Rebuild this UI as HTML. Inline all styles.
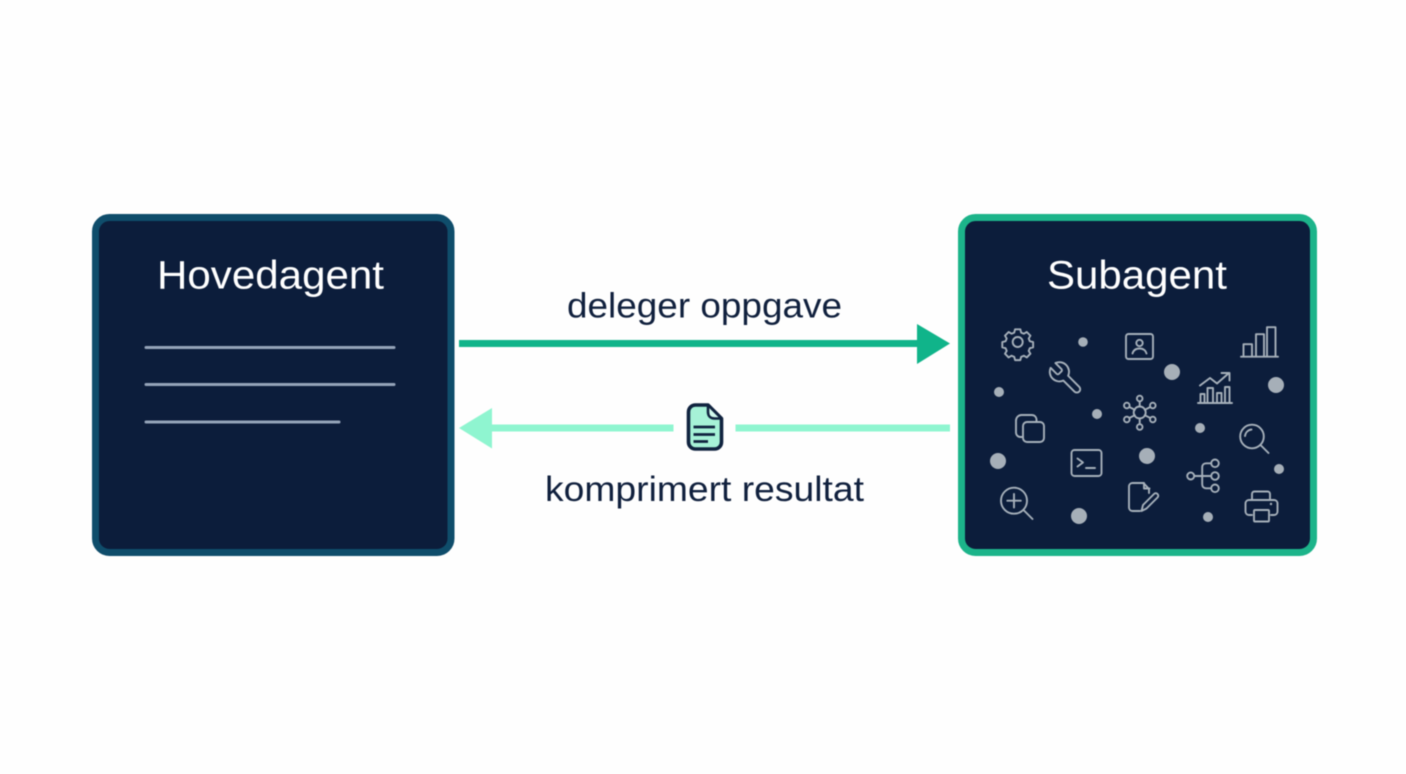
<!DOCTYPE html>
<html lang="no">
<head>
<meta charset="utf-8">
<title>Hovedagent og Subagent</title>
<style>
html,body{margin:0;padding:0;width:1406px;height:774px;background:#fefefe;overflow:hidden}
svg{display:block;filter:blur(0.4px)}
text{font-family:"Liberation Sans",sans-serif}
.i{fill:none;stroke:#a6b0ba;stroke-width:1.9;stroke-linecap:round;stroke-linejoin:round}
.i *{vector-effect:non-scaling-stroke}
.d{fill:#a6afb8}
</style>
</head>
<body>
<svg width="1406" height="774" viewBox="0 0 1406 774" xmlns="http://www.w3.org/2000/svg">
<rect width="1406" height="774" fill="#fefefe"/>

<!-- Left box -->
<rect x="95.500" y="217.500" width="355.500" height="335" rx="14" fill="#0c1d3b" stroke="#0f4d6b" stroke-width="7"/>
<text x="270.500" y="288.500" font-size="39.500" fill="#fff" text-anchor="middle" textLength="227" lengthAdjust="spacingAndGlyphs">Hovedagent</text>
<g stroke="#94a3b8" stroke-width="3" stroke-linecap="round">
<line x1="146" y1="347.500" x2="394" y2="347.500"/>
<line x1="146" y1="384.500" x2="394" y2="384.500"/>
<line x1="146" y1="422" x2="339" y2="422"/>
</g>

<!-- Right box -->
<rect x="961.500" y="217.500" width="352" height="335" rx="14" fill="#0c1d3b" stroke="#1cb48a" stroke-width="7"/>
<text x="1137" y="288.500" font-size="39.500" fill="#fff" text-anchor="middle" textLength="180" lengthAdjust="spacingAndGlyphs">Subagent</text>

<!-- Dots -->
<g class="d">
<circle cx="1083" cy="342" r="4.800"/>
<circle cx="1172" cy="372" r="8"/>
<circle cx="1276" cy="385" r="8"/>
<circle cx="999" cy="392" r="5"/>
<circle cx="1097" cy="414" r="5"/>
<circle cx="1200" cy="428" r="5"/>
<circle cx="998" cy="461" r="8"/>
<circle cx="1147" cy="456" r="8"/>
<circle cx="1279" cy="469" r="5"/>
<circle cx="1079" cy="516" r="8"/>
<circle cx="1208" cy="517" r="5"/>
</g>

<g class="i">
<!-- Gear -->
<circle cx="1017.700" cy="342" r="5"/>
<path transform="translate(1017.700,342) scale(.82) translate(-1017.700,-342)" d="M1014.500 326.500h6.400l1 4 3.300 1.400 3.600-2.100 4.400 4.500-2.100 3.500 1.400 3.300 4 1v6.400l-4 1-1.400 3.300 2.100 3.500-4.400 4.500-3.600-2.100-3.300 1.400-1 4h-6.400l-1-4-3.300-1.400-3.600 2.100-4.400-4.500 2.100-3.500-1.400-3.300-4-1v-6.400l4-1 1.400-3.300-2.100-3.500 4.400-4.500 3.600 2.100 3.300-1.400z"/>
<!-- Person card -->
<rect x="1126" y="334" width="27" height="25" rx="2.500"/>
<circle cx="1139.500" cy="343" r="3.200"/>
<path d="M1132.500 353.500c1-3.600 3.600-5 7-5s6 1.400 7 5"/>
<!-- Bars -->
<path d="M1241 356.700h37M1243.500 356.700v-12.500h8.500v12.500M1256 356.700v-22.500h8v22.500M1267 356.700v-29.500h8.500v29.500"/>
<!-- Wrench -->
<path transform="translate(1085,359) scale(-1.6,1.6)" d="M14.700 6.300a1 1 0 0 0 0 1.400l1.600 1.600a1 1 0 0 0 1.400 0l3.770-3.770a6 6 0 0 1-7.940 7.940l-6.910 6.910a2.120 2.120 0 0 1-3-3l6.910-6.910a6 6 0 0 1 7.940-7.940l-3.760 3.760z"/>
<!-- Chart -->
<path d="M1198 403h34M1200.500 403v-9h4v9M1207.500 403v-15h5.500v15M1217 403v-10h4.500v10M1225 403v-16h4.500v16"/>
<path d="M1200 385.500l10-7.500 7 5.500 12-10.500M1221.500 373h8v7.500"/>
<!-- Network -->
<circle cx="1139.700" cy="412.500" r="6"/>
<circle cx="1139.700" cy="398.500" r="2.800"/>
<circle cx="1152.800" cy="405.500" r="2.800"/>
<circle cx="1152.800" cy="419.500" r="2.800"/>
<circle cx="1139.700" cy="427" r="2.800"/>
<circle cx="1126.800" cy="419.500" r="2.800"/>
<circle cx="1126.800" cy="405.500" r="2.800"/>
<path d="M1139.700 401.300v5.200M1150.300 407l-5.500 2.800M1150.300 418l-5.500-2.800M1139.700 424.200v-5.700M1129.300 418l5.500-2.800M1129.300 407l5.500 2.800"/>
<!-- Copy -->
<path d="M1022.500 437h-2c-2.500 0-4.500-2-4.500-4.500v-12c0-3 2.500-5.500 5.500-5.500h10c3 0 5 2 5 5v2"/>
<rect x="1023" y="422" width="21" height="20" rx="4"/>
<!-- Terminal -->
<rect x="1071.500" y="450" width="30" height="26" rx="3"/>
<path d="M1077.500 458.500l5.500 4-5.500 4M1086 468h9"/>
<!-- Magnifier right -->
<circle cx="1252" cy="436.500" r="11.800"/>
<path d="M1260.500 445l8 8M1245 436c0.500-3.500 3-6 6.500-6.500"/>
<!-- Tree -->
<circle cx="1190.700" cy="476" r="3.500"/>
<circle cx="1215" cy="463.300" r="3.800"/>
<circle cx="1215" cy="476" r="3.800"/>
<circle cx="1215" cy="488.300" r="3.800"/>
<path d="M1194.200 476h17M1211.200 463.300h-5c-2.500 0-4 1.500-4 4v17c0 2.500 1.500 4 4 4h5"/>
<!-- File with pen -->
<path d="M1140 511h-7.500c-2 0-3.500-1.500-3.500-3.500v-21c0-2 1.500-3.500 3.500-3.500h11l5.500 6v4"/>
<path d="M1144 483v5.500h5.500"/>
<path d="M1141.500 511l1.500-6 11-11c1-1 2.500-1 3.500 0s1 2.500 0 3.500l-11 11z"/>
<!-- Zoom plus -->
<circle cx="1014" cy="500.700" r="13"/>
<path d="M1014 494v13.500M1007.300 500.700h13.500M1023.500 510l9 9"/>
<!-- Printer -->
<path d="M1252 500v-6c0-1.500 1-2.500 2.500-2.500h13c1.500 0 2.500 1 2.500 2.500v6"/>
<path d="M1252 515h-3c-2 0-3.500-1.500-3.500-3.500v-8c0-2 1.500-3.500 3.500-3.500h25c2 0 3.500 1.500 3.500 3.500v8c0 2-1.500 3.500-3.500 3.500h-3"/>
<rect x="1254" y="510" width="15" height="11.500" rx="1"/>
</g>
<circle cx="1271" cy="504" r="1.200" fill="#a6b0ba"/>

<!-- Top arrow -->
<text x="704.500" y="317.500" font-size="35.500" fill="#10203d" text-anchor="middle" textLength="275" lengthAdjust="spacingAndGlyphs">deleger oppgave</text>
<rect x="459" y="340" width="460" height="7" fill="#10b48a"/>
<polygon points="917,324 950,343.500 917,364" fill="#10b48a"/>

<!-- Bottom arrow -->
<rect x="490" y="424.500" width="183.500" height="7" fill="#8ff5d0"/>
<rect x="735.500" y="424.500" width="214.500" height="7" fill="#8ff5d0"/>
<polygon points="492,408 459,428 492,448.500" fill="#8ff5d0"/>

<!-- Document icon -->
<path d="M695.500 405h12.500l13.500 13.500v23.500c0 4-3 7-7 7h-19c-4 0-7-3-7-7v-30c0-4 3-7 7-7z" fill="#a6f2d7" stroke="#10233f" stroke-width="3.600" stroke-linejoin="round"/>
<path d="M708 405v7c0 4 2.500 6.500 6.500 6.500h7z" fill="#d3f9ec" stroke="#10233f" stroke-width="2.600" stroke-linejoin="round"/>
<path d="M693.500 427h21.500M693.500 434.500h21.500M693.500 441.500h14.500" stroke="#10233f" stroke-width="2.800" fill="none"/>

<text x="704.500" y="501" font-size="35.500" fill="#10203d" text-anchor="middle" textLength="319" lengthAdjust="spacingAndGlyphs">komprimert resultat</text>
</svg>
</body>
</html>
